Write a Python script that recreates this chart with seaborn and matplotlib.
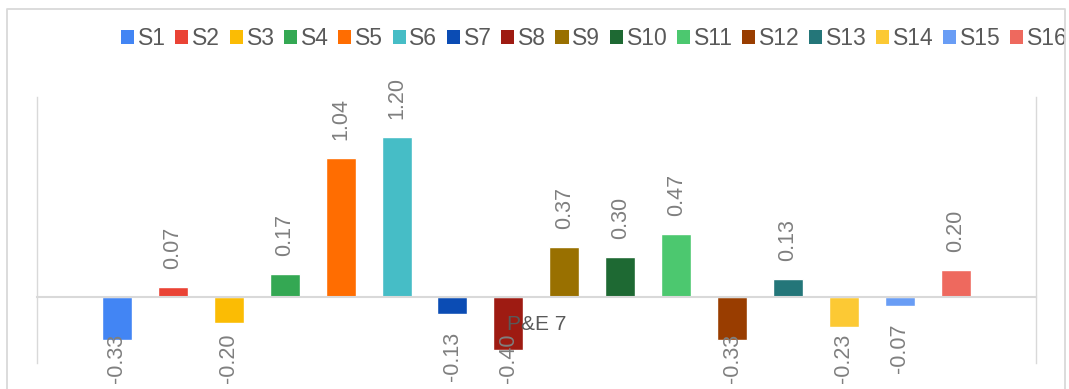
import matplotlib
matplotlib.use("Agg")
import matplotlib.pyplot as plt
from matplotlib.patches import Patch, Rectangle
from matplotlib.lines import Line2D
import pandas as pd
import seaborn as sns

# Chart data
category = "P&E 7"
series = [f"S{i}" for i in range(1, 17)]
values = [-0.33, 0.07, -0.20, 0.17, 1.04, 1.20, -0.13, -0.40,
          0.37, 0.30, 0.47, -0.33, 0.13, -0.23, -0.07, 0.20]
colors = ["#4285F4", "#EA4335", "#FBBC04", "#34A853", "#FF6D01", "#46BDC6",
          "#0B4CB4", "#9E1B12", "#997000", "#1E6933", "#4CC86F", "#993D00",
          "#247679", "#FCC934", "#699DF5", "#EE695E"]

df = pd.DataFrame({"category": [category] * len(series),
                   "series": series,
                   "value": values})

sns.set_style("white")
plt.rcParams["font.family"] = ["Liberation Sans", "DejaVu Sans"]

W, H = 1069, 389
fig = plt.figure(figsize=(W / 100, H / 100), dpi=100)
ax = fig.add_axes([36.7 / W, 1 - 363 / H, (1036 - 36.7) / W, (363 - 97) / H])

sns.barplot(data=df, x="category", y="value", hue="series", hue_order=series,
            palette=colors, saturation=1, width=0.8955, gap=0.464,
            errorbar=None, legend=False, ax=ax)

ax.set_xlim(-0.5, 0.5)
ax.set_ylim(-0.5, 1.5)
ax.set_yticks([])
ax.set_xlabel("")
ax.set_ylabel("")

grid_col = "#d9d9d9"
ax.spines["top"].set_visible(False)
for side in ("left", "right"):
    ax.spines[side].set_color(grid_col)
    ax.spines[side].set_linewidth(1.0)
ax.spines["bottom"].set_position(("data", 0))
ax.spines["bottom"].set_color(grid_col)
ax.spines["bottom"].set_linewidth(1.5)
ax.tick_params(axis="x", length=0, pad=13.5, labelsize=15, labelcolor="#595959")
# category label sits on top of the bars
ax.xaxis.set_zorder(4)

# Rotated value labels
labels = []
for cont in ax.containers:
    labels += ax.bar_label(cont, fmt="%.2f", rotation=90, padding=13.0,
                           fontsize=15.5, color="#7f7f7f")

# Keep the labels under negative bars inside the chart area
fig.canvas.draw()
renderer = fig.canvas.get_renderer()
limit = 383
for ann, v in zip(labels, values):
    if v < 0:
        bb = ann.get_window_extent(renderer)
        bottom = H - bb.y0
        if bottom > limit:
            dx, dy = ann.xyann
            ann.xyann = (dx, dy + (bottom - limit) * 72 / 100)

# Legend across the top
handles = [Patch(facecolor=c, edgecolor="none", label=s) for s, c in zip(series, colors)]
fig.legend(handles=handles, loc="center left", bbox_to_anchor=(121 / W, 1 - 38.5 / H),
           ncol=len(series), frameon=False, fontsize=16.5, labelcolor="#595959",
           handlelength=0.57, handleheight=0.57, handletextpad=0.17,
           columnspacing=0.41, borderpad=0, borderaxespad=0)

# Chart area border
fig.add_artist(Rectangle((1065.8 / W, 0), 10 / W, 1, transform=fig.transFigure,
                         facecolor="white", edgecolor="none", zorder=20))
fig.add_artist(Line2D([7 / W, 7 / W, 1065 / W, 1065 / W],
                      [-0.1, 1 - 9 / H, 1 - 9 / H, -0.1],
                      transform=fig.transFigure, color=grid_col, lw=1.3, zorder=21))

fig.savefig("out.png", dpi=100)
